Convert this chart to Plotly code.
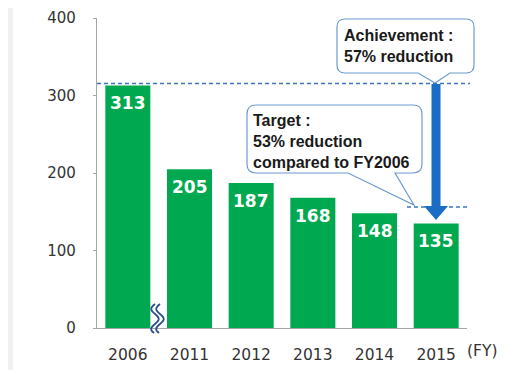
import plotly.graph_objects as go

# ---- data ----
years = ["2006", "2011", "2012", "2013", "2014", "2015"]
values = [313, 205, 187, 168, 148, 135]
y_ticks = [0, 100, 200, 300, 400]
achievement_text = "Achievement :<br>57% reduction"
target_text = "Target :<br>53% reduction<br>compared to FY2006"
axis_suffix = "(FY)"

# ---- geometry helpers (reference pixel -> paper) ----
OFF = 8  # default page body margin in the browser
W, H = 505 - OFF, 370 - OFF
L, R, T, B = 97, 467, 18, 328  # plot area in reference pixels


def px(X):
    return (X - L) / (R - L)


def py(Y):
    return (B - Y) / (B - T)


def pt(X, Y):
    return f"{px(X):.5f},{py(Y):.5f}"


def callout(l, t, r, b, rad, b1, b2, tx, ty):
    return (f"M {pt(l + rad, t)} L {pt(r - rad, t)} Q {pt(r, t)} {pt(r, t + rad)} "
            f"L {pt(r, b - rad)} Q {pt(r, b)} {pt(r - rad, b)} L {pt(b2, b)} "
            f"L {pt(tx, ty)} L {pt(b1, b)} L {pt(l + rad, b)} Q {pt(l, b)} {pt(l, b - rad)} "
            f"L {pt(l, t + rad)} Q {pt(l, t)} {pt(l + rad, t)} Z")


GREEN = "#00A94F"
BLUE = "#1A6DC4"
DASH = "#3D74BE"
BORDER = "#6C9BCF"
TXT = "#333333"

fig = go.Figure()
fig.add_bar(x=list(range(len(years))), y=values, width=0.73,
            marker=dict(color=GREEN, line=dict(width=0)), hoverinfo="skip")

annotations = []
for i, v in enumerate(values):
    annotations.append(dict(x=i, y=v, xref="x", yref="y", yshift=-18, text=str(v),
                            showarrow=False, yanchor="middle", xanchor="center",
                            font=dict(family="DejaVu Sans", size=17, color="white",
                                      weight="bold")))

annotations.append(dict(x=px(465), y=py(351), xref="paper", yref="paper", text=axis_suffix,
                        showarrow=False, xanchor="left", yanchor="middle",
                        font=dict(family="DejaVu Sans", size=15.5, color=TXT)))
annotations.append(dict(x=px(342), y=py(46), xref="paper", yref="paper", text=achievement_text,
                        showarrow=False, xanchor="left", yanchor="middle", align="left",
                        font=dict(family="Liberation Sans", size=16, color="#1a1a1a",
                                  weight="bold")))
annotations.append(dict(x=px(251), y=py(141), xref="paper", yref="paper", text=target_text,
                        showarrow=False, xanchor="left", yanchor="middle", align="left",
                        font=dict(family="Liberation Sans", size=16, color="#1a1a1a",
                                  weight="bold")))

shapes = []
# left grey strip of the page
shapes.append(dict(type="rect", xref="paper", yref="paper", x0=px(0), x1=px(13),
                   y0=py(0), y1=py(370), fillcolor="#F0F0F0", line=dict(width=0), layer="below"))
# dashed reference lines
shapes.append(dict(type="line", xref="paper", yref="paper", x0=px(L), x1=px(470),
                   y0=py(83.5), y1=py(83.5), line=dict(color=DASH, width=1.3, dash="4px,3px")))
shapes.append(dict(type="line", xref="paper", yref="paper", x0=px(407), x1=px(470),
                   y0=py(207), y1=py(207), line=dict(color=DASH, width=1.3, dash="4px,3px")))
# arrow
cx = 436
shapes.append(dict(type="rect", xref="paper", yref="paper", x0=px(cx - 4.5), x1=px(cx + 4.5),
                   y0=py(84), y1=py(207), fillcolor=BLUE, line=dict(width=0)))
shapes.append(dict(type="path", xref="paper", yref="paper",
                   path=f"M {pt(cx - 12, 206)} L {pt(cx + 12, 206)} L {pt(cx, 220)} Z",
                   fillcolor=BLUE, line=dict(width=0)))
# callouts
shapes.append(dict(type="path", xref="paper", yref="paper",
                   path=callout(337, 19, 474, 73, 8, 418, 450, 435, 83),
                   fillcolor="white", line=dict(color=BORDER, width=1.2)))
shapes.append(dict(type="path", xref="paper", yref="paper",
                   path=callout(247, 105, 422, 173, 9, 348, 395, 414, 205),
                   fillcolor="white", line=dict(color=BORDER, width=1.2)))
# axis break symbol
for x0 in (155, 160):
    y0 = 304
    shapes.append(dict(type="path", xref="paper", yref="paper",
                       path=(f"M {pt(x0, y0)} C {pt(x0 - 5, y0 + 4)} {pt(x0 - 5, y0 + 6)} {pt(x0, y0 + 10)} "
                             f"C {pt(x0 + 5, y0 + 14)} {pt(x0 + 5, y0 + 16)} {pt(x0, y0 + 20)} "
                             f"C {pt(x0 - 5, y0 + 24)} {pt(x0 - 5, y0 + 26)} {pt(x0 - 1, y0 + 29)}"),
                       line=dict(color="#2B4F8C", width=1.8)))

fig.update_layout(
    width=W, height=H,
    margin=dict(l=L - OFF, r=505 - R, t=T - OFF, b=370 - B, pad=0, autoexpand=False),
    paper_bgcolor="white", plot_bgcolor="white",
    showlegend=False,
    bargap=0.27,
    annotations=annotations,
    shapes=shapes,
    font=dict(family="DejaVu Sans", color=TXT),
    xaxis=dict(range=[-0.5, len(years) - 0.5], tickvals=list(range(len(years))), ticktext=years,
               showline=True, linecolor="#A6A6A6", linewidth=1.2, ticks="", showgrid=False,
               zeroline=False, tickfont=dict(family="DejaVu Sans", size=15.5, color=TXT),
               ticklabelstandoff=12, fixedrange=True, automargin=False),
    yaxis=dict(range=[0, 400], tickvals=y_ticks, showline=True, linecolor="#A6A6A6",
               linewidth=1.2, ticks="outside", ticklen=3, tickcolor="#A6A6A6", showgrid=False,
               zeroline=False, tickfont=dict(family="DejaVu Sans", size=15, color=TXT),
               ticklabelstandoff=14, fixedrange=True, automargin=False),
)

fig.write_html("out.html", config={"displayModeBar": False})
